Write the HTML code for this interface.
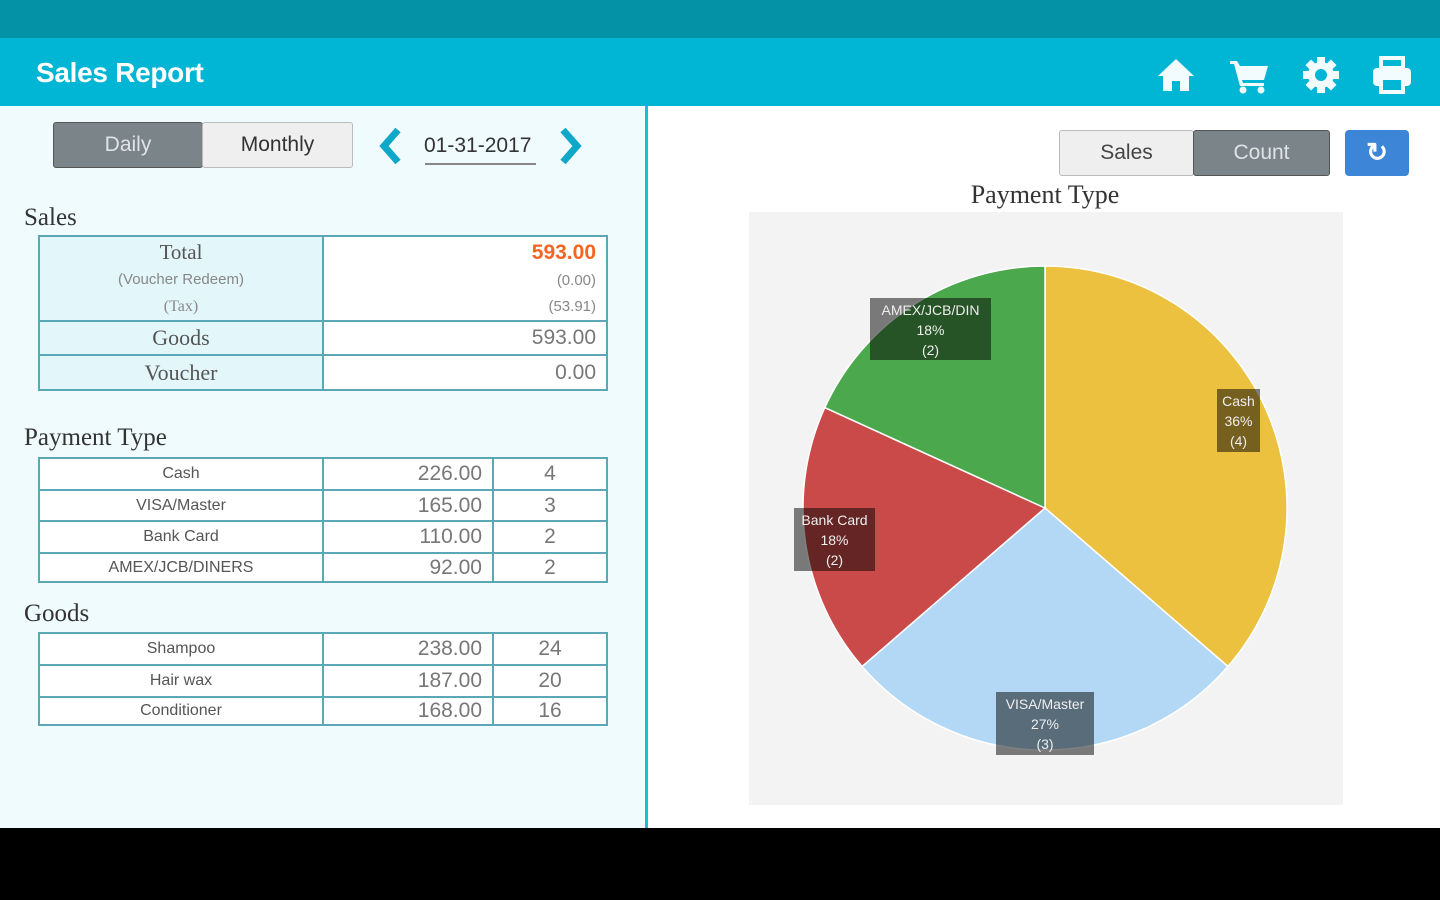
<!DOCTYPE html>
<html><head><meta charset="utf-8">
<style>
*{margin:0;padding:0;box-sizing:border-box}
body{width:1440px;height:900px;overflow:hidden;background:#000;font-family:"Liberation Sans",sans-serif;position:relative}
.abs{position:absolute}
#top{left:0;top:0;width:1440px;height:38px;background:#0492a6}
#hdr{left:0;top:38px;width:1440px;height:68px;background:#01b5d5}
#hdr .t{position:absolute;left:36px;top:19px;color:#fff;font-size:28px;font-weight:bold;letter-spacing:-0.3px}
#left{left:0;top:106px;width:648px;height:722px;background:#effbfd;border-right:3px solid #1bbcd8}
#right{left:648px;top:106px;width:792px;height:722px;background:#fff}
.seg{position:absolute;height:46px;border:1px solid #bbb;border-radius:3px;font-size:21px;text-align:center;line-height:44px}
.serif{font-family:"Liberation Serif",serif}
table{border-collapse:collapse;position:absolute;left:38px;width:570px}
td{border:2px solid #5aa8b6;color:#555;padding:0}
td.l{background:#e3f6fa;text-align:center;width:284px}
td.v{background:#fff;text-align:right;padding-right:10px}
h3{position:absolute;font-family:"Liberation Serif",serif;font-weight:normal;font-size:25px;color:#333;left:24px}
.lbl{position:absolute;color:#eee;font-size:14px;text-align:center;line-height:20px}
</style></head><body>
<div id="top" class="abs"></div>
<div id="hdr" class="abs"><div class="t">Sales Report</div></div>
<svg class="abs" style="left:1156px;top:57px" width="40" height="36" viewBox="0 0 40 36"><path d="M20 2 L38 19 L33 19 L33 34 L24 34 L24 24 L16 24 L16 34 L7 34 L7 19 L2 19 Z" fill="#f2fbfd"/></svg>
<svg class="abs" style="left:1228px;top:58px" width="42" height="36" viewBox="0 0 42 36"><path d="M2 3 H9 L12 8 H40 L36 22 H14 L15 25 H36 V28 H12 L6 6 H2Z" fill="#f2fbfd"/><circle cx="15" cy="32" r="3.5" fill="#f2fbfd"/><circle cx="33" cy="32" r="3.5" fill="#f2fbfd"/></svg>
<svg class="abs" style="left:1301px;top:55px" width="40" height="40" viewBox="0 0 40 40"><g fill="#f2fbfd"><circle cx="20" cy="20" r="13"/><rect x="16" y="2" width="8" height="36"/><rect x="2" y="16" width="36" height="8"/><rect x="16" y="2" width="8" height="36" transform="rotate(45 20 20)"/><rect x="16" y="2" width="8" height="36" transform="rotate(-45 20 20)"/></g><circle cx="20" cy="20" r="6" fill="#01b5d5"/></svg>
<svg class="abs" style="left:1371px;top:56px" width="42" height="38" viewBox="0 0 42 38"><rect x="10" y="2" width="22" height="10" fill="none" stroke="#f2fbfd" stroke-width="4"/><rect x="2" y="12" width="38" height="18" rx="4" fill="#f2fbfd"/><rect x="10" y="22" width="22" height="14" fill="#01b5d5" stroke="#f2fbfd" stroke-width="4"/></svg>
<div id="left" class="abs">
<div class="seg" style="left:53px;top:16px;width:150px;background:#7b8489;color:#dfe3e5;border-color:#555">Daily</div>
<div class="seg" style="left:202px;top:16px;width:151px;background:#efefef;color:#333">Monthly</div>
<svg class="abs" style="left:376px;top:20px" width="28" height="40" viewBox="0 0 28 40"><path d="M22 4 L8 20 L22 36" fill="none" stroke="#10a8c8" stroke-width="7"/></svg>
<div class="abs" style="left:424px;top:28px;font-size:21px;color:#333">01-31-2017</div>
<div class="abs" style="left:425px;top:57px;width:111px;height:2px;background:#888"></div>
<svg class="abs" style="left:557px;top:20px" width="28" height="40" viewBox="0 0 28 40"><path d="M6 4 L20 20 L6 36" fill="none" stroke="#10a8c8" stroke-width="7"/></svg>
<h3 style="top:98px">Sales</h3>
<table style="top:129px">
<tr style="height:85px"><td class="l serif" style="font-size:21px;line-height:25px;vertical-align:top;padding-top:3px">Total<br><span style="font-family:'Liberation Sans';font-size:15px;color:#888">(Voucher Redeem)</span><br><span style="font-size:16px;color:#888">(Tax)</span></td><td class="v" style="vertical-align:top;line-height:26px;padding-top:3px"><span style="color:#f26522;font-size:21px;font-weight:bold">593.00</span><br><span style="font-size:15px;color:#888">(0.00)</span><br><span style="font-size:15px;color:#888">(53.91)</span></td></tr>
<tr style="height:34px"><td class="l serif" style="font-size:22px">Goods</td><td class="v" style="font-size:21px;color:#777">593.00</td></tr>
<tr style="height:35px"><td class="l serif" style="font-size:22px">Voucher</td><td class="v" style="font-size:21px;color:#777">0.00</td></tr>
</table>
<h3 style="top:318px">Payment Type</h3>
<table style="top:351px;font-size:16px">
<tr style="height:32px"><td class="l" style="background:#fff">Cash</td><td class="v" style="font-size:21px;color:#777">226.00</td><td style="background:#fff;text-align:center;width:114px;font-size:21px;color:#777">4</td></tr>
<tr style="height:31px"><td class="l" style="background:#fff">VISA/Master</td><td class="v" style="font-size:21px;color:#777">165.00</td><td style="background:#fff;text-align:center;font-size:21px;color:#777">3</td></tr>
<tr style="height:32px"><td class="l" style="background:#fff">Bank Card</td><td class="v" style="font-size:21px;color:#777">110.00</td><td style="background:#fff;text-align:center;font-size:21px;color:#777">2</td></tr>
<tr style="height:29px"><td class="l" style="background:#fff">AMEX/JCB/DINERS</td><td class="v" style="font-size:21px;color:#777">92.00</td><td style="background:#fff;text-align:center;font-size:21px;color:#777">2</td></tr>
</table>
<h3 style="top:494px">Goods</h3>
<table style="top:526px;font-size:16px">
<tr style="height:32px"><td class="l" style="background:#fff">Shampoo</td><td class="v" style="font-size:21px;color:#777">238.00</td><td style="background:#fff;text-align:center;width:114px;font-size:21px;color:#777">24</td></tr>
<tr style="height:32px"><td class="l" style="background:#fff">Hair wax</td><td class="v" style="font-size:21px;color:#777">187.00</td><td style="background:#fff;text-align:center;font-size:21px;color:#777">20</td></tr>
<tr style="height:28px"><td class="l" style="background:#fff">Conditioner</td><td class="v" style="font-size:21px;color:#777">168.00</td><td style="background:#fff;text-align:center;font-size:21px;color:#777">16</td></tr>
</table>
</div>
<div id="right" class="abs">
<div class="seg" style="left:411px;top:24px;width:135px;background:#efefef;color:#444">Sales</div>
<div class="seg" style="left:545px;top:24px;width:137px;background:#7b8489;color:#dfe3e5;border-color:#555">Count</div>
<div class="abs" style="left:697px;top:24px;width:64px;height:46px;background:#3d85d6;border-radius:4px;color:#fff;font-size:26px;text-align:center;line-height:44px;font-weight:bold">&#x21BB;</div>
<div class="abs serif" style="left:0;width:794px;text-align:center;top:74px;font-size:26px;color:#333">Payment Type</div>
</div>
<svg class="abs" style="left:0;top:0" width="1440" height="900">
<rect x="749" y="212" width="594" height="593" fill="#f3f3f3"/>
<g stroke="#fff" stroke-width="1.5">
<path d="M1045 508 L1045 266 A242 242 0 0 1 1227.9 666.5 Z" fill="#ecc13f"/>
<path d="M1045 508 L1227.9 666.5 A242 242 0 0 1 862.1 666.5 Z" fill="#b3d8f5"/>
<path d="M1045 508 L862.1 666.5 A242 242 0 0 1 824.8 407.6 Z" fill="#ca4a49"/>
<path d="M1045 508 L824.8 407.6 A242 242 0 0 1 1045 266 Z" fill="#4ca84c"/>
</g>
<rect x="870" y="298" width="121" height="62" fill="rgba(0,0,0,0.5)"/>
<rect x="1217" y="389" width="43" height="63" fill="rgba(0,0,0,0.5)"/>
<rect x="794" y="508" width="81" height="63" fill="rgba(0,0,0,0.5)"/>
<rect x="996" y="692" width="98" height="63" fill="rgba(0,0,0,0.5)"/>
</svg>
<div class="lbl" style="left:870px;top:300px;width:121px">AMEX/JCB/DIN<br>18%<br>(2)</div>
<div class="lbl" style="left:1217px;top:391px;width:43px">Cash<br>36%<br>(4)</div>
<div class="lbl" style="left:794px;top:510px;width:81px">Bank Card<br>18%<br>(2)</div>
<div class="lbl" style="left:996px;top:694px;width:98px">VISA/Master<br>27%<br>(3)</div>
</body></html>
